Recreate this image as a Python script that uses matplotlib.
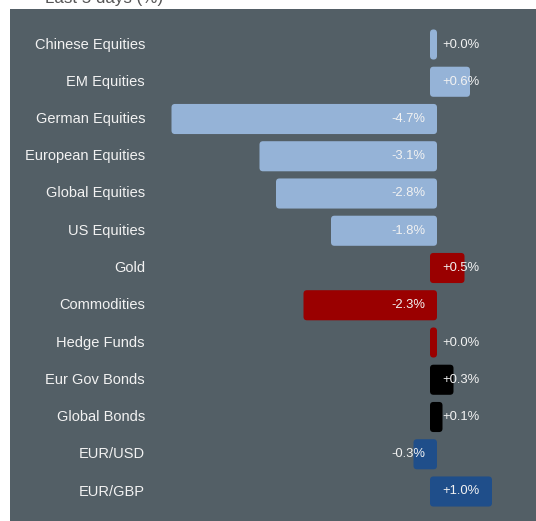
import numpy as np
import matplotlib.pyplot as plt
from matplotlib.patches import FancyBboxPatch
from matplotlib.transforms import blended_transform_factory

plt.rcParams['font.family'] = ['Liberation Sans', 'DejaVu Sans']

# Weekly performance by asset class
categories = ['Chinese Equities', 'EM Equities', 'German Equities', 'European Equities',
              'Global Equities', 'US Equities', 'Gold', 'Commodities', 'Hedge Funds',
              'Eur Gov Bonds', 'Global Bonds', 'EUR/USD', 'EUR/GBP']
values = [0.0, 0.6, -4.7, -3.1, -2.8, -1.8, 0.5, -2.3, 0.0, 0.3, 0.1, -0.3, 1.0]
labels = ['+0.0%', '+0.6%', '-4.7%', '-3.1%', '-2.8%', '-1.8%', '+0.5%', '-2.3%',
          '+0.0%', '+0.3%', '+0.1%', '-0.3%', '+1.0%']
groups = ['equity'] * 6 + ['alt'] * 3 + ['bond'] * 2 + ['fx'] * 2

group_colors = {'equity': '#95b3d7', 'alt': '#9a0000', 'bond': '#000000', 'fx': '#1f4e8a'}
panel_color = '#535f66'

W, H = 536, 521
fig = plt.figure(figsize=(W / 100, H / 100), dpi=100)
fig.patch.set_facecolor('white')

# panel area in pixels
left_px, top_px = 10, 9
ax = fig.add_axes([left_px / W, 0, (W - left_px) / W, (H - top_px) / H])
ax.set_facecolor(panel_color)
for s in ax.spines.values():
    s.set_visible(False)
ax.set_xticks([])
ax.set_yticks([])

px_per_unit = 55.0
zero_px = 433.5 - left_px
ax_w = W - left_px
ax.set_xlim(-zero_px / px_per_unit, (ax_w - zero_px) / px_per_unit)

row_px = 37.25
first_row = 35.5
ax_h = H - top_px
ax.set_ylim((ax_h - first_row) / row_px, -first_row / row_px)

y = np.arange(len(categories))
bar_h = 0.62
pad = 3.5 / px_per_unit
aspect = px_per_unit / row_px

bars = ax.barh(y, values, height=bar_h)
for bar, v, g in zip(bars, values, groups):
    x0 = min(0.0, v)
    w = abs(v)
    rounded = FancyBboxPatch((x0, bar.get_y()), w, bar.get_height(),
                             boxstyle=f'round,pad={pad}',
                             mutation_aspect=aspect,
                             facecolor=group_colors[g], edgecolor='none')
    bar.remove()
    ax.add_patch(rounded)

# value labels beside the zero line
off = 8.5 * 72 / 100
for yi, v, lab in zip(y, values, labels):
    if v >= 0:
        ax.annotate(lab, (0, yi), xytext=(off, 0), textcoords='offset points',
                    ha='left', va='center', color='#f2f2f2', fontsize=9.4)
    else:
        ax.annotate(lab, (0, yi), xytext=(-off, 0), textcoords='offset points',
                    ha='right', va='center', color='#f2f2f2', fontsize=9.4)

# category names
trans = blended_transform_factory(ax.transAxes, ax.transData)
for yi, name in zip(y, categories):
    ax.text((145 - left_px) / ax_w, yi, name, transform=trans, ha='right', va='center',
            color='#f2f2f2', fontsize=10.5)

# title sits mostly above the top edge
fig.text(163 / W, 1 - 3 / H, 'Last 5 days (%)', ha='right', va='baseline',
         color='#555555', fontsize=12.2)

fig.savefig('out.png', dpi=100, facecolor=fig.get_facecolor())
